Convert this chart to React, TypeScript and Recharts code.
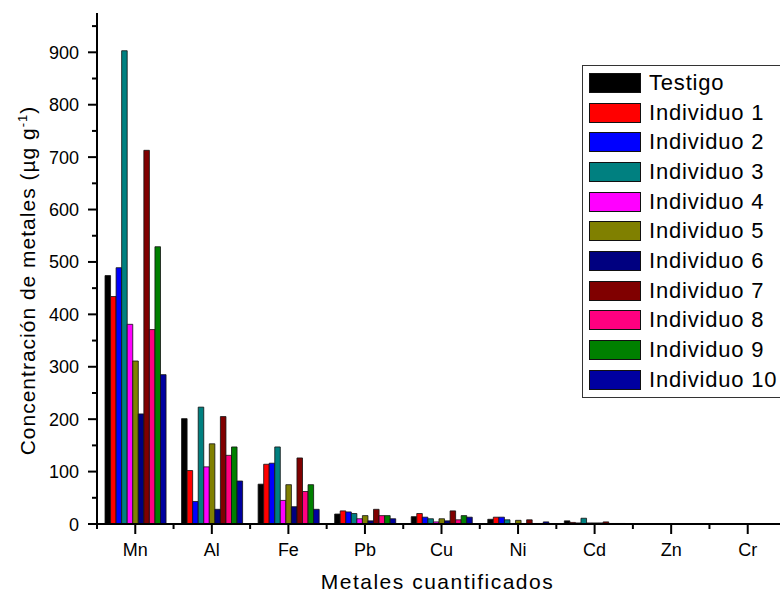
import { BarChart, Bar, XAxis, YAxis, Legend, Label } from "recharts";

const metales = ["Mn", "Al", "Fe", "Pb", "Cu", "Ni", "Cd", "Zn", "Cr"];

const testigo = [474, 201, 76, 19, 14, 9, 6, 0, 0];
const individuo1 = [434, 102, 114, 25, 20, 13, 3, 0, 0];
const individuo2 = [489, 43, 116, 23, 13, 13, 2, 0, 0];
const individuo3 = [903, 223, 147, 20, 10, 8, 11, 0, 0];
const individuo4 = [381, 109, 45, 10, 4, 1, 2, 0, 0];
const individuo5 = [311, 153, 75, 16, 10, 7, 2, 0, 0];
const individuo6 = [210, 28, 33, 6, 6, 1, 2, 0, 0];
const individuo7 = [713, 205, 126, 28, 25, 8, 4, 0, 0];
const individuo8 = [371, 131, 62, 16, 8, 1, 1, 0, 0];
const individuo9 = [529, 147, 75, 16, 16, 1, 1, 0, 0];
const individuo10 = [285, 82, 28, 10, 13, 4, 1, 0, 0];

const yTicks = [0, 50, 100, 150, 200, 250, 300, 350, 400, 450, 500, 550, 600, 650, 700, 750, 800, 850, 900, 950];

const series = [
  { key: "Testigo", values: testigo, color: "#000000" },
  { key: "Individuo 1", values: individuo1, color: "#ff0000" },
  { key: "Individuo 2", values: individuo2, color: "#0000ff" },
  { key: "Individuo 3", values: individuo3, color: "#008080" },
  { key: "Individuo 4", values: individuo4, color: "#ff00ff" },
  { key: "Individuo 5", values: individuo5, color: "#808000" },
  { key: "Individuo 6", values: individuo6, color: "#000080" },
  { key: "Individuo 7", values: individuo7, color: "#800000" },
  { key: "Individuo 8", values: individuo8, color: "#ff0080" },
  { key: "Individuo 9", values: individuo9, color: "#008000" },
  { key: "Individuo 10", values: individuo10, color: "#0000a0" },
];

const data = metales.map((metal, i) => {
  const row: Record<string, string | number> = { metal };
  series.forEach((s) => {
    row[s.key] = s.values[i];
  });
  return row;
});

const FONT = "Arial, 'Liberation Sans', sans-serif";

function XTick(props: any) {
  const { x, y, payload, index } = props;
  const band = (typeof props.width === "number" ? props.width : 689) / metales.length;
  return (
    <g>
      <line x1={x} y1={y} x2={x} y2={y + 10} stroke="#000" strokeWidth={2} />
      <line x1={x - band / 2} y1={y} x2={x - band / 2} y2={y + 5} stroke="#000" strokeWidth={2} />
      {index === metales.length - 1 && (
        <line x1={x + band / 2} y1={y} x2={x + band / 2} y2={y + 5} stroke="#000" strokeWidth={2} />
      )}
      <text x={x} y={y + 32} textAnchor="middle" fontSize={18} fontFamily={FONT} fill="#000">
        {payload.value}
      </text>
    </g>
  );
}

function YTick(props: any) {
  const { x, y, payload } = props;
  const major = payload.value % 100 === 0;
  return (
    <g>
      <line x1={x} y1={y} x2={x - (major ? 9 : 5)} y2={y} stroke="#000" strokeWidth={2} />
      {major && (
        <text x={x - 18} y={y + 6.5} textAnchor="end" fontSize={18} fontFamily={FONT} fill="#000">
          {payload.value}
        </text>
      )}
    </g>
  );
}

function YTitle(props: any) {
  const vb = props.viewBox || { x: 0, y: 13, width: 97, height: 511 };
  const cx = vb.x + 35;
  const cy = vb.y + vb.height / 2 + 12;
  return (
    <text
      x={cx}
      y={cy}
      transform={`rotate(-90, ${cx}, ${cy})`}
      textAnchor="middle"
      fontSize={21}
      letterSpacing={1}
      fontFamily={FONT}
      fill="#000"
    >
      Concentración de metales (µg g
      <tspan fontSize={13} dy={-8}>-1</tspan>
      <tspan dy={8}>)</tspan>
    </text>
  );
}

function XTitle(props: any) {
  const vb = props.viewBox || { x: 97, y: 524, width: 689, height: 73 };
  return (
    <text
      x={vb.x + vb.width / 2 - 4}
      y={vb.y + 65}
      textAnchor="middle"
      fontSize={21}
      letterSpacing={1.5}
      fontFamily={FONT}
      fill="#000"
    >
      Metales cuantificados
    </text>
  );
}

function LegendBox() {
  return (
    <div
      style={{
        width: 200,
        boxSizing: "border-box",
        border: "1px solid #333",
        background: "#fff",
        padding: "2px 0",
        fontFamily: FONT,
      }}
    >
      {series.map((s) => (
        <div key={s.key} style={{ height: 29.7, display: "flex", alignItems: "center" }}>
          <div
            style={{
              marginLeft: 6,
              width: 52,
              height: 20,
              boxSizing: "border-box",
              border: "1px solid #111",
              background: s.color,
            }}
          />
          <span
            style={{
              marginLeft: 8,
              fontSize: 22,
              letterSpacing: 0.8,
              lineHeight: 1,
              color: "#000",
              whiteSpace: "nowrap",
            }}
          >
            {s.key}
          </span>
        </div>
      ))}
    </div>
  );
}

export default function App() {
  return (
    <div style={{ position: "absolute", left: 0, top: 0, width: 780, height: 597, overflow: "hidden", background: "#fff" }}>
      <BarChart
        width={800}
        height={597}
        data={data}
        margin={{ top: 13, right: 14, left: 0, bottom: 0 }}
        barSize={5.55}
        barGap={0}
      >
        <XAxis
          dataKey="metal"
          height={73}
          interval={0}
          tickSize={0}
          tickMargin={0}
          tickLine={false}
          axisLine={{ stroke: "#000", strokeWidth: 2 }}
          tick={<XTick />}
        >
          <Label content={<XTitle />} />
        </XAxis>
        <YAxis
          width={97}
          domain={[0, 975]}
          ticks={yTicks}
          interval={0}
          tickSize={0}
          tickMargin={0}
          tickLine={false}
          axisLine={{ stroke: "#000", strokeWidth: 2 }}
          tick={<YTick />}
        >
          <Label content={<YTitle />} />
        </YAxis>
        <Legend
          layout="horizontal"
          align="center"
          verticalAlign="middle"
          wrapperStyle={{ left: 582, top: 65, width: 200 }}
          content={() => <LegendBox />}
        />
        {series.map((s) => (
          <Bar
            key={s.key}
            dataKey={s.key}
            fill={s.color}
            stroke="#111"
            strokeWidth={0.8}
            isAnimationActive={false}
          />
        ))}
      </BarChart>
    </div>
  );
}
